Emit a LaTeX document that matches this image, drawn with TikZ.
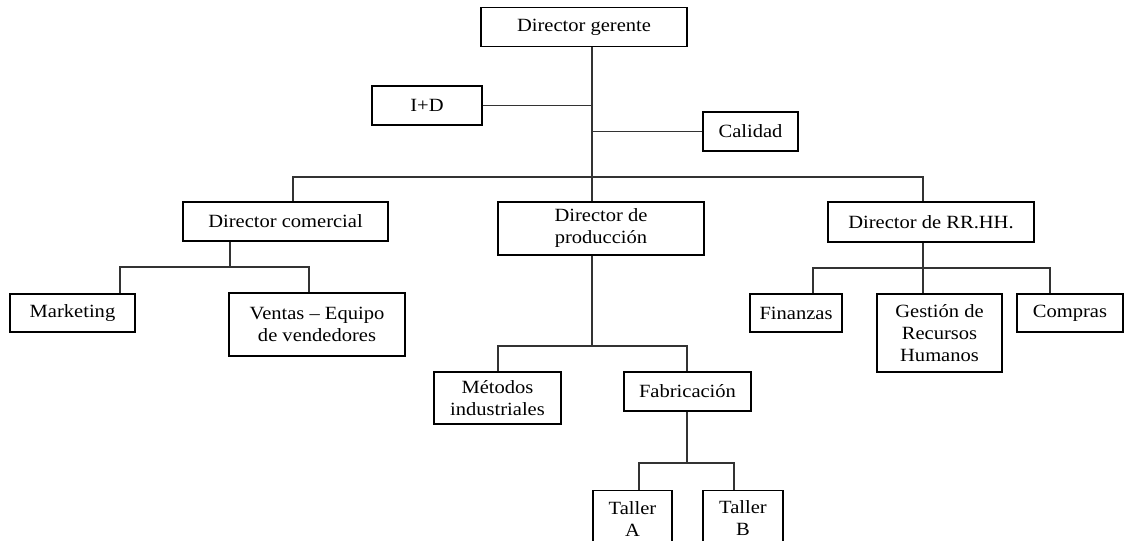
\documentclass[tikz,border=0pt]{standalone}
\usepackage{fontspec}
\setmainfont{Liberation Serif}[FakeStretch=1.1]

\begin{document}
\begin{tikzpicture}[x=0.75pt,y=-0.75pt,
  caja/.style 2 args={draw=black, line width=0.8pt, align=center, inner sep=2pt,
    minimum width=#1*0.75pt, minimum height=#2*0.75pt,
    font=\fontsize{14}{16.5}\selectfont},
  enlace/.style={draw=black!80, line width=1.1pt}]
\useasboundingbox (0,0) rectangle (1124,540);
\clip (0,0) rectangle (1124,540);
%
% Cajas :
\node[caja={206}{39}] (gerente) at (584,27) {Director gerente};
\node[caja={110}{39}] (id) at (427,105.5) {I+D};
\node[caja={95}{39}] (calidad) at (750.5,131.5) {Calidad};
\node[caja={205}{39}] (comercial) at (285.5,221.5) {Director comercial};
\node[caja={206}{53}] (produccion) at (601,228.5) {Director de\\producción};
\node[caja={206}{40}] (rrhh) at (931,222) {Director de RR.HH.};
\node[caja={125}{38}] (marketing) at (72.5,313) {Marketing};
\node[caja={176}{63}] (ventas) at (317,324.5) {Ventas – Equipo\\de vendedores};
\node[caja={127}{52}] (metodos) at (497.5,398) {Métodos\\industriales};
\node[caja={127}{39}] (fabricacion) at (687.5,391.5) {Fabricación};
\node[caja={92}{38}] (finanzas) at (796,313) {Finanzas};
\node[caja={125}{78}] (gestion) at (939.5,333) {Gestión de\\Recursos\\Humanos};
\node[caja={106}{38}] (compras) at (1070,313) {Compras};
\node[caja={79}{56}, anchor=north] (tallerA) at (632.5,490) {Taller\\A};
\node[caja={80}{56}, anchor=north] (tallerB) at (743,490) {Taller\\B};
%
% Puntos de las barras :
\coordinate (eje) at (592,177);
\coordinate (bus-izq) at (293,177);
\coordinate (bus-der) at (923,177);
\coordinate (c0) at (230,267);
\coordinate (c1) at (120,267);
\coordinate (c2) at (309,267);
\coordinate (p0) at (592,346);
\coordinate (p1) at (498,346);
\coordinate (p2) at (687,346);
\coordinate (f0) at (687,463);
\coordinate (f1) at (639,463);
\coordinate (f2) at (734,463);
\coordinate (r0) at (923,268);
\coordinate (r1) at (813,268);
\coordinate (r2) at (1050,268);
%
% Enlaces :
\draw[enlace] (gerente.south -| eje) -- (eje) -- (produccion.north -| eje);
\draw[enlace] (id.east) -- (id.east -| eje);
\draw[enlace] (calidad.west) -- (calidad.west -| eje);
\draw[enlace] (comercial.north -| bus-izq) -- (bus-izq) -- (bus-der) -- (rrhh.north -| bus-der);
\draw[enlace] (comercial.south -| c0) -- (c0);
\draw[enlace] (marketing.north -| c1) -- (c1) -- (c2) -- (ventas.north -| c2);
\draw[enlace] (produccion.south -| p0) -- (p0);
\draw[enlace] (metodos.north -| p1) -- (p1) -- (p2) -- (fabricacion.north -| p2);
\draw[enlace] (fabricacion.south -| f0) -- (f0);
\draw[enlace] (tallerA.north -| f1) -- (f1) -- (f2) -- (tallerB.north -| f2);
\draw[enlace] (rrhh.south -| r0) -- (r0) -- (gestion.north -| r0);
\draw[enlace] (finanzas.north -| r1) -- (r1) -- (r2) -- (compras.north -| r2);
\end{tikzpicture}
\end{document}
